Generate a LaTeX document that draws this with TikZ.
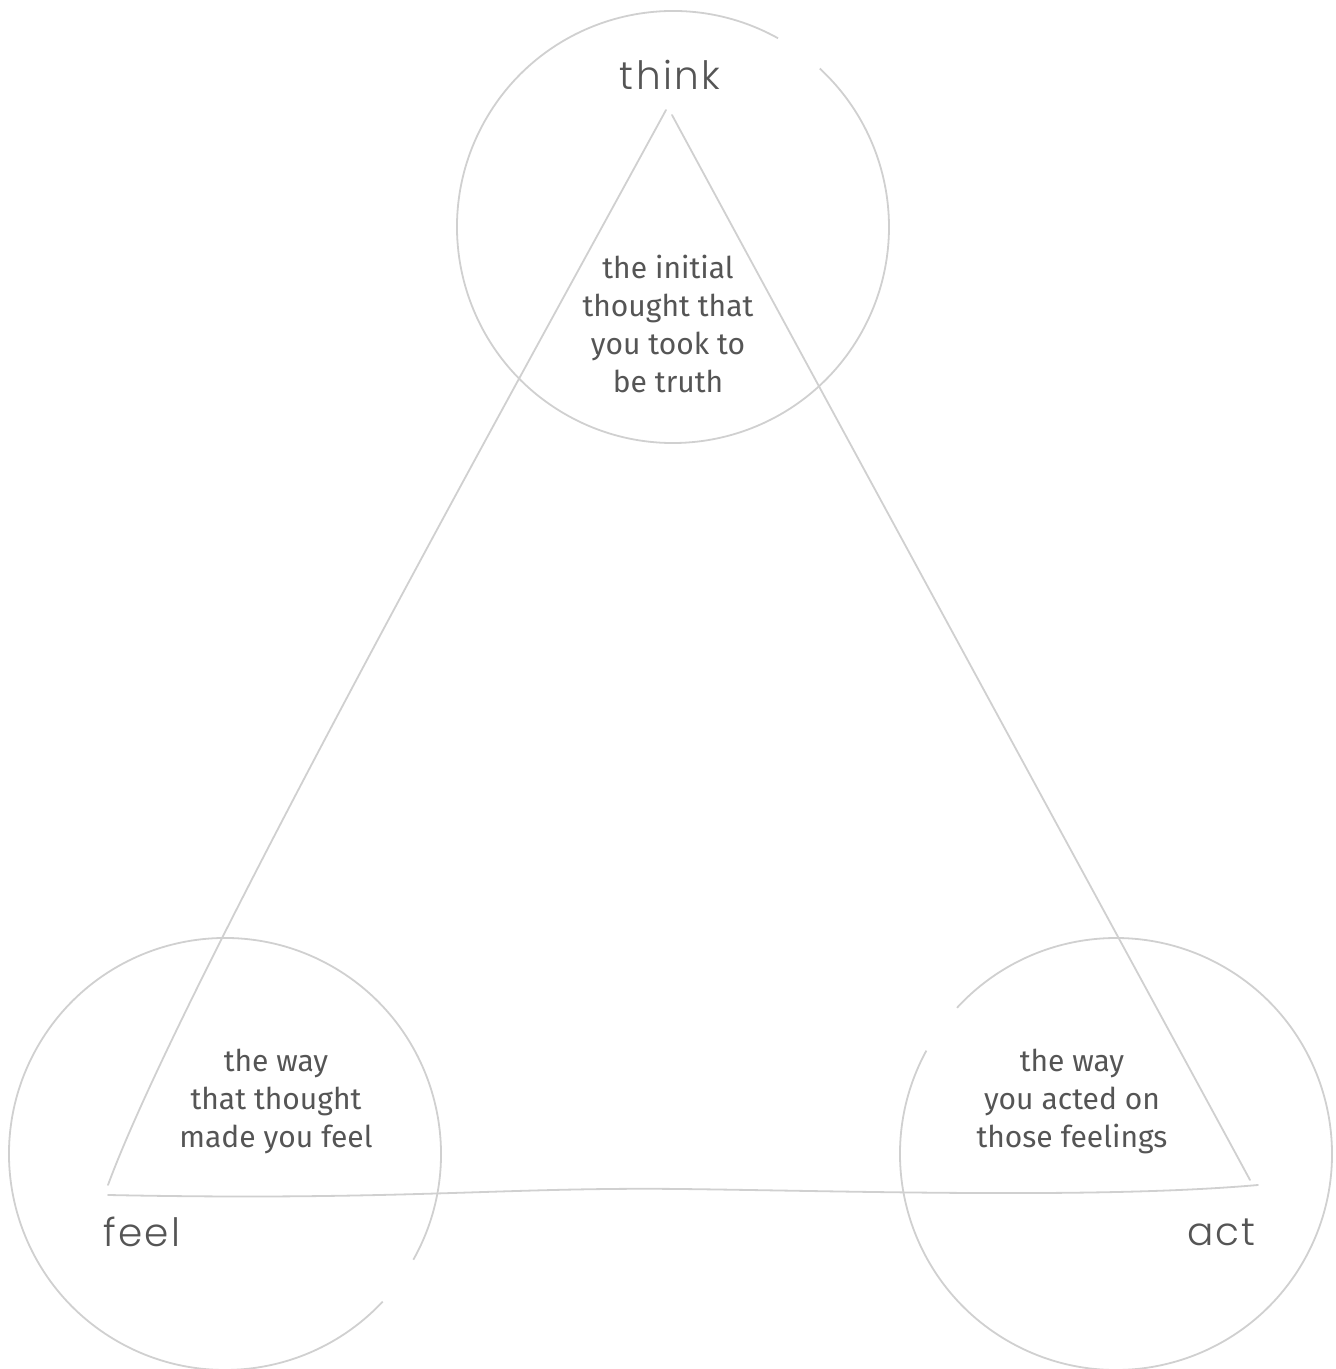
\documentclass[tikz,border=0pt]{standalone}
\usepackage{fontspec}
\setmainfont[Ligatures=NoCommon]{Fira Sans}
\newfontfamily\labelfont[LetterSpace=6]{Poppins Light}
\definecolor{ringgray}{HTML}{D0D0D0}
\definecolor{textgray}{HTML}{555555}
\begin{document}
\begin{tikzpicture}[x=1pt,y=1pt,
  ring/.style={draw=ringgray,line width=1.8pt},
  side/.style={draw=ringgray,line width=1.8pt,line cap=round},
  bodytext/.style={text=textgray,font=\fontsize{30}{38}\selectfont,align=center,inner sep=0pt},
  cornerlabel/.style={text=textgray,font=\labelfont\fontsize{39}{39}\selectfont,inner sep=0pt}]
\useasboundingbox (0,0) rectangle (1336,1369);
% circle centres
\coordinate (thinkc) at (673,1142);
\coordinate (feelc) at (225,215);
\coordinate (actc) at (1116,215);
% rings with gaps
\draw[ring] ([shift={(60.9:216)}]thinkc) arc[start angle=60.9,end angle=407.2,radius=216];
\draw[ring] ([shift={(-29.3:216)}]feelc) arc[start angle=-29.3,end angle=316.9,radius=216];
\draw[ring] ([shift={(151.4:216)}]actc) arc[start angle=151.4,end angle=497.4,radius=216];
% triangle corners
\coordinate (tL) at (666,1259);
\coordinate (tR) at (672,1254);
\coordinate (fT) at (108,184);
\coordinate (fB) at (108,174);
\coordinate (aT) at (1250,189);
\coordinate (aB) at (1258,184);
\coordinate (mid) at (680,180);
\draw[side] (tL) .. controls (520,991) and (180,380) .. (fT);
\draw[side] (tR) .. controls (820,980) and (1190,300) .. (aT);
\draw[side] (fB) .. controls (400,168) and (500,182) .. (mid) .. controls (850,178) and (1100,170) .. (aB);
% labels
\node[cornerlabel] (think) at (670,1294) {think};
\node[cornerlabel,anchor=west] (feel) at (103,137) {feel};
\node[cornerlabel,anchor=east] (act) at (1256,137) {act};
% body texts
\node[bodytext] (thinktext) at (668,1045) {the initial\\thought that\\you took to\\be truth};
\node[bodytext] (feeltext) at (276,268) {the way\\that thought\\made you feel};
\node[bodytext] (acttext) at (1072,268) {the way\\you acted on\\those feelings};
\end{tikzpicture}
\end{document}
